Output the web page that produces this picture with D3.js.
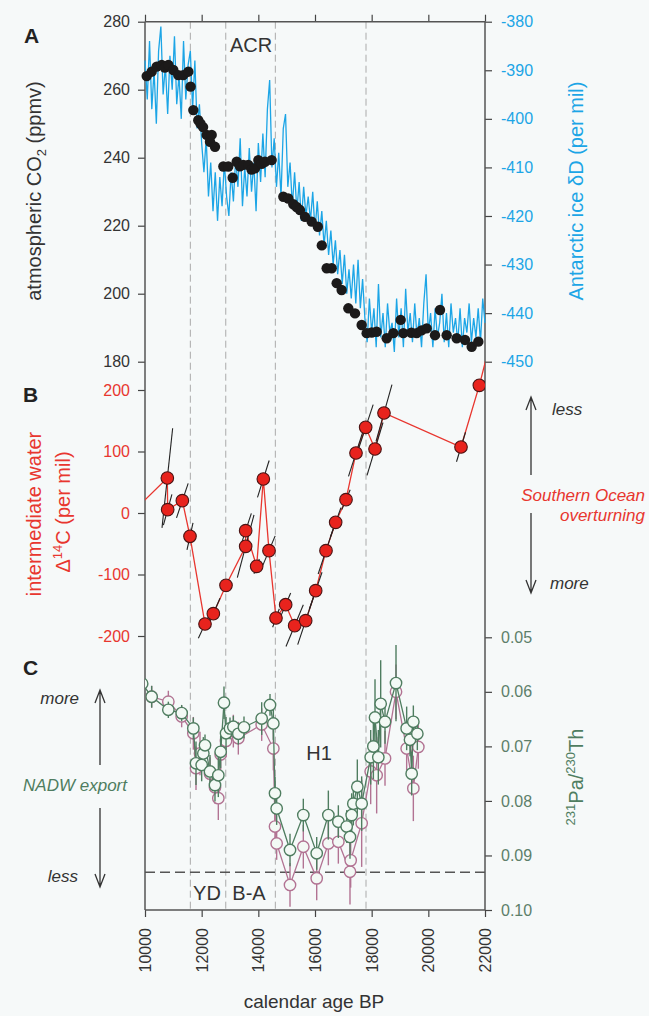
<!DOCTYPE html>
<html>
<head>
<meta charset="utf-8">
<script src="https://cdn.jsdelivr.net/npm/d3@7"></script>
<style>
  body { margin: 0; background: #f6f9f9; }
  svg { display: block; font-family: "Liberation Sans", Arial, sans-serif; }
</style>
</head>
<body>
<svg id="chart" width="649" height="1016"></svg>
<script>
// ---- data ----
const ageTicks = [10000, 12000, 14000, 16000, 18000, 20000, 22000];
const boundaries = [11600, 12850, 14600, 17800];   // dashed event lines

// A: atmospheric CO2 (ppmv)
const co2Ticks = [180, 200, 220, 240, 260, 280];
const co2Data = [
  [10060,264.0],[10236,265.3],[10412,266.8],[10590,267.3],[10700,266.5],[10825,267.3],[11000,265.8],
  [11175,264.3],[11350,264.3],[11530,265.3],[11610,260.9],[11705,254.0],[11880,251.0],[11960,250.0],
  [12050,249.0],[12176,246.7],[12294,244.7],[12353,246.7],[12470,243.2],[12765,237.4],[12940,237.4],
  [13094,234.1],[13236,238.8],[13350,237.5],[13470,237.9],[13646,237.9],[13760,236.5],[13882,236.9],
  [14000,239.3],[14120,238.2],[14235,238.8],[14471,239.3],[14882,228.5],[15058,228.0],[15235,226.3],
  [15350,225.5],[15470,224.6],[15647,222.6],[15882,221.2],[16100,219.7],[16240,214.2],[16412,207.5],
  [16588,207.5],[16765,203.1],[16940,201.1],[17176,195.7],[17412,194.2],[17647,190.8],[17823,188.4],
  [18000,188.6],[18176,188.8],[18530,186.9],[18765,188.4],[19023,192.3],[19117,188.4],[19400,188.5],
  [19588,188.4],[19760,189.2],[19941,189.8],[20235,187.8],[20412,195.2],[20647,187.8],[21000,186.9],
  [21294,186.4],[21530,184.4],[21765,185.9]
];

// A: Antarctic ice dD (per mil)
const dDTicks = [-380, -390, -400, -410, -420, -430, -440, -450];
const dDAge = [
  10000,10080,10160,10240,10320,10400,10480,10560,10640,10720,
  10800,10880,10960,11040,11120,11200,11280,11360,11440,11520,
  11600,11680,11760,11840,11920,12000,12080,12160,12240,12320,
  12400,12480,12560,12640,12720,12800,12880,12960,13040,13120,
  13200,13280,13360,13440,13520,13600,13680,13760,13840,13920,
  14000,14080,14160,14240,14320,14400,14480,14560,14640,14720,
  14800,14880,14960,15040,15120,15200,15280,15360,15440,15520,
  15600,15680,15760,15840,15920,16000,16080,16160,16240,16320,
  16400,16480,16560,16640,16720,16800,16880,16960,17040,17120,
  17200,17280,17360,17440,17520,17600,17680,17760,17840,17920,
  18000,18080,18160,18240,18320,18400,18480,18560,18640,18720,
  18800,18880,18960,19040,19120,19200,19280,19360,19440,19520,
  19600,19680,19760,19840,19920,20000,20080,20160,20240,20320,
  20400,20480,20560,20640,20720,20800,20880,20960,21040,21120,
  21200,21280,21360,21440,21520,21600,21680,21760,21840,21920,
  22000
];
const dDValue = [
  -388,-396,-384,-398,-390,-401,-386,-381,-395,-389,
  -399,-387,-394,-383,-397,-391,-400,-384,-396,-389,
  -386,-398,-388,-402,-397,-405,-411,-404,-416,-409,
  -419,-411,-421,-412,-418,-409,-416,-420,-411,-417,
  -408,-414,-404,-418,-410,-416,-406,-415,-409,-419,
  -405,-413,-403,-412,-398,-392,-410,-404,-414,-407,
  -416,-402,-399,-414,-409,-418,-411,-419,-413,-421,
  -414,-420,-416,-421,-415,-423,-417,-424,-419,-426,
  -421,-428,-423,-430,-425,-432,-427,-434,-428,-436,
  -431,-437,-430,-438,-429,-439,-433,-441,-446,-437,
  -444,-439,-447,-434,-445,-440,-447,-438,-444,-442,
  -448,-437,-445,-439,-447,-435,-444,-440,-446,-438,
  -445,-441,-447,-438,-432,-444,-440,-447,-439,-445,
  -442,-436,-446,-440,-447,-438,-444,-441,-446,-439,
  -447,-441,-444,-438,-446,-441,-445,-439,-446,-437,
  -442
];

// B: intermediate water D14C (per mil): [age, value, age half-err, value half-err]
const c14Ticks = [200, 100, 0, -100, -200];
const c14Line = [[9700, 8], [22200, 280]];  // line runs off both edges
const c14Data = [
  [10788, 56.9, 188, 81],[10800, 5.4, 150, 25],[11318, 20.1, 206, 28],[11588, -37.9, 106, 22],
  [12118, -180.5, 235, 23],[12412, -163.7, 235, 25],[12859, -117.6, 0, 0],[13553, -54.2, 294, 51],
  [13553, -28.7, 200, 28],[13941, -86.7, 94, 12],[14176, 55.3, 206, 30],[14376, -61.2, 218, 24],
  [14623, -170.7, 118, 15],[14965, -149.1, 176, 19],[15282, -183.2, 306, 34],[15671, -175.1, 282, 39],
  [16024, -126.3, 224, 30],[16388, -61.2, 276, 38],[16729, -15.2, 188, 24],[17094, 21.7, 147, 16],
  [17447, 97.6, 265, 38],[17788, 139.3, 265, 37],[18118, 104.1, 282, 43],[18435, 162.6, 282, 46],
  [21153, 107.3, 159, 24],[21800, 207.6, 0, 0]
];

// C: 231Pa/230Th : [age, ratio, half-err]
const paTicks = [0.05, 0.06, 0.07, 0.08, 0.09, 0.10];
const paThreshold = 0.0931;
const paGreen = [
  [9900,0.0585,0.002],[10235,0.0609,0.002],[10824,0.0633,0.0015],[11294,0.0639,0.0015],
  [11706,0.0667,0.002],[11800,0.0731,0.004],[12000,0.0734,0.003],[12059,0.0713,0.003],
  [12118,0.0698,0.002],[12294,0.0746,0.003],[12470,0.0771,0.003],[12588,0.0753,0.004],
  [12670,0.0710,0.003],[12788,0.0620,0.003],[12860,0.0676,0.003],[13000,0.0667,0.002],
  [13118,0.0664,0.002],[13294,0.0677,0.002],[13494,0.0665,0.002],[14118,0.0649,0.003],
  [14412,0.0624,0.002],[14530,0.0658,0.003],[14588,0.0786,0.003],[14647,0.0814,0.003],
  [15118,0.0890,0.003],[15588,0.0826,0.003],[16060,0.0896,0.003],[16471,0.0826,0.0045],
  [16824,0.0838,0.003],[17118,0.0847,0.003],[17235,0.0866,0.004],[17294,0.0826,0.004],
  [17353,0.0805,0.004],[17494,0.0774,0.005],[17647,0.0805,0.005],[17965,0.0720,0.005],
  [18060,0.0700,0.006],[18118,0.0647,0.007],[18235,0.0720,0.005],[18318,0.0622,0.008],
  [18471,0.0655,0.004],[18859,0.0584,0.007],[19235,0.0667,0.004],[19353,0.0688,0.003],
  [19412,0.0750,0.004],[19471,0.0655,0.003],[19612,0.0677,0.003]
];
const paPink = [
  [10235,0.0609,0.002],[10824,0.0618,0.002],[11294,0.0645,0.002],[11706,0.0676,0.003],
  [11800,0.0740,0.004],[11941,0.0713,0.004],[12294,0.0750,0.003],[12470,0.0775,0.003],
  [12588,0.0795,0.004],[12670,0.0715,0.003],[12860,0.0690,0.003],[13118,0.0672,0.003],
  [13294,0.0685,0.003],[14118,0.0660,0.003],[14530,0.0704,0.004],[14588,0.0847,0.003],
  [14647,0.0878,0.003],[15118,0.0954,0.004],[15588,0.0884,0.004],[16060,0.0942,0.004],
  [16471,0.0878,0.004],[16824,0.0875,0.004],[17235,0.0930,0.006],[17259,0.0909,0.005],
  [17647,0.0841,0.008],[17965,0.0746,0.006],[18176,0.0753,0.007],[18471,0.0722,0.005],
  [18859,0.0600,0.005],[19235,0.0704,0.004],[19471,0.0777,0.006],[19647,0.0701,0.004]
];

// ---- layout ----
const X0 = 145, X1 = 485, TOP = 21.7, BOT = 910;
const CYAN = "#1ca5e6", RED = "#e8362f", GREEN = "#4f7d60", PINK = "#b27393", INK = "#333";

const svg = d3.select("#chart");

const x = d3.scaleLinear().domain([10000, 22000]).range([X0, X1]);
const yCO2 = d3.scaleLinear().domain([180, 280]).range([361.7, TOP]);
const yDD = d3.scaleLinear().domain([-450, -380]).range([361.7, TOP]);
const yC14 = d3.scaleLinear().domain([-200, 200]).range([636, 390]);
const yPa = d3.scaleLinear().domain([0.05, 0.10]).range([637.3, BOT]);

svg.append("defs").append("clipPath").attr("id", "plotclip")
  .append("rect").attr("x", X0).attr("y", 0).attr("width", X1 - X0).attr("height", 1016);

// dashed event lines
svg.append("g").selectAll("line").data(boundaries).enter().append("line")
  .attr("x1", d => x(d)).attr("x2", d => x(d))
  .attr("y1", TOP).attr("y2", BOT)
  .attr("stroke", "#aaa").attr("stroke-width", 1).attr("stroke-dasharray", "7,4");

// threshold line in C
svg.append("line")
  .attr("x1", X0).attr("x2", X1)
  .attr("y1", yPa(paThreshold)).attr("y2", yPa(paThreshold))
  .attr("stroke", "#555").attr("stroke-width", 1.5).attr("stroke-dasharray", "10,5");

// ---- axes ----
function styleAxis(g, color) {
  g.attr("font-family", null).attr("font-size", 16);
  g.select(".domain").remove();
  g.selectAll(".tick line").attr("stroke", "#444").attr("stroke-width", 1.2);
  g.selectAll(".tick text").attr("fill", color);
}
const plain = d => String(d);

svg.append("g").attr("transform", `translate(${X0},0)`)
  .call(d3.axisLeft(yCO2).tickValues(co2Ticks).tickFormat(plain).tickSize(7).tickPadding(8))
  .call(g => styleAxis(g, INK));
svg.append("g").attr("transform", `translate(${X1},0)`)
  .call(d3.axisRight(yDD).tickValues(dDTicks).tickFormat(plain).tickSize(7).tickPadding(9))
  .call(g => styleAxis(g, CYAN));
svg.append("g").attr("transform", `translate(${X0},0)`)
  .call(d3.axisLeft(yC14).tickValues(c14Ticks).tickFormat(plain).tickSize(7).tickPadding(8))
  .call(g => styleAxis(g, RED));
svg.append("g").attr("transform", `translate(${X1},0)`)
  .call(d3.axisRight(yPa).tickValues(paTicks).tickFormat(d3.format(".2f")).tickSize(7).tickPadding(9))
  .call(g => styleAxis(g, "#5d7f6a"));
svg.append("g").attr("transform", `translate(0,${TOP})`)
  .call(d3.axisTop(x).tickValues(ageTicks).tickFormat("").tickSize(7))
  .call(g => styleAxis(g, INK));
svg.append("g").attr("transform", `translate(0,${BOT})`)
  .call(d3.axisBottom(x).tickValues(ageTicks).tickFormat(plain).tickSize(7))
  .call(g => styleAxis(g, INK))
  .call(g => g.selectAll(".tick text")
    .attr("transform", "rotate(-90)").attr("x", -18).attr("y", 0)
    .attr("dy", "0.35em").attr("text-anchor", "end"));

// frame
const frame = svg.append("g").attr("stroke", "#555").attr("stroke-width", 1.5);
frame.append("line").attr("x1", X0).attr("x2", X0).attr("y1", TOP).attr("y2", BOT);
frame.append("line").attr("x1", X1).attr("x2", X1).attr("y1", TOP).attr("y2", BOT);
frame.append("line").attr("x1", X0).attr("x2", X1).attr("y1", TOP).attr("y2", TOP);
frame.append("line").attr("x1", X0).attr("x2", X1).attr("y1", BOT).attr("y2", BOT);

// ---- panel A ----
const dDPoints = dDAge.map((a, i) => [a, dDValue[i]]);
svg.append("path").datum(dDPoints)
  .attr("fill", "none").attr("stroke", CYAN).attr("stroke-width", 1.3)
  .attr("d", d3.line().x(d => x(d[0])).y(d => yDD(d[1])));

svg.append("g").selectAll("circle").data(co2Data).enter().append("circle")
  .attr("cx", d => x(d[0])).attr("cy", d => yCO2(d[1])).attr("r", 5.2)
  .attr("fill", "#1c1a1a");

// ---- panel B ----
const gB = svg.append("g").attr("clip-path", "url(#plotclip)");
const c14Path = [c14Line[0], ...c14Data.map(d => [d[0], d[1]]), c14Line[1]];
gB.append("path").datum(c14Path)
  .attr("fill", "none").attr("stroke", RED).attr("stroke-width", 1.3)
  .attr("d", d3.line().x(d => x(d[0])).y(d => yC14(d[1])));
gB.selectAll("line.err").data(c14Data.filter(d => d[2] > 0)).enter().append("line")
  .attr("x1", d => x(d[0] - d[2])).attr("y1", d => yC14(d[1] - d[3]))
  .attr("x2", d => x(d[0] + d[2])).attr("y2", d => yC14(d[1] + d[3]))
  .attr("stroke", "#222").attr("stroke-width", 1.1);
gB.selectAll("circle").data(c14Data).enter().append("circle")
  .attr("cx", d => x(d[0])).attr("cy", d => yC14(d[1])).attr("r", 6.3)
  .attr("fill", "#e8231d").attr("stroke", "#4a1414").attr("stroke-width", 1.1);

// ---- panel C ----
const gC = svg.append("g").attr("clip-path", "url(#plotclip)");
function paSeries(data, color) {
  const g = gC.append("g");
  g.selectAll("line").data(data).enter().append("line")
    .attr("x1", d => x(d[0])).attr("x2", d => x(d[0]))
    .attr("y1", d => yPa(d[1] - d[2])).attr("y2", d => yPa(d[1] + d[2]))
    .attr("stroke", color).attr("stroke-width", 1.4);
  g.append("path").datum(data)
    .attr("fill", "none").attr("stroke", color).attr("stroke-width", 1.3)
    .attr("d", d3.line().x(d => x(d[0])).y(d => yPa(d[1])));
  g.selectAll("circle").data(data).enter().append("circle")
    .attr("cx", d => x(d[0])).attr("cy", d => yPa(d[1])).attr("r", 5.7)
    .attr("fill", "#f3f9f5").attr("stroke", color).attr("stroke-width", 1.4);
}
paSeries(paPink, PINK);
paSeries(paGreen, GREEN);

// ---- text ----
function label(txt, px, py, opts = {}) {
  const t = svg.append("text").attr("x", px).attr("y", py)
    .attr("font-size", opts.size || 16)
    .attr("fill", opts.color || INK)
    .attr("text-anchor", opts.anchor || "start");
  if (opts.bold) t.attr("font-weight", "bold");
  if (opts.italic) t.attr("font-style", "italic");
  if (opts.rotate) t.attr("transform", `rotate(-90,${px},${py})`);
  t.text(txt);
  return t;
}

label("A", 24, 43, { size: 21, bold: true, color: "#222" });
label("B", 23, 402, { size: 21, bold: true, color: "#222" });
label("C", 23, 675, { size: 21, bold: true, color: "#222" });

label("ACR", 251, 52, { size: 20, anchor: "middle" });
label("H1", 319, 760, { size: 20, anchor: "middle" });
label("YD", 207, 900, { size: 20, anchor: "middle" });
label("B-A", 249, 900, { size: 20, anchor: "middle" });
label("calendar age BP", 314, 1008, { size: 19, anchor: "middle" });

// y titles
const co2Title = label("", 41, 191, { size: 20, color: INK, anchor: "middle", rotate: true });
co2Title.append("tspan").text("atmospheric CO");
co2Title.append("tspan").attr("font-size", 13).attr("dy", 5).text("2");
co2Title.append("tspan").attr("dy", -5).text(" (ppmv)");

label("Antarctic ice \u03B4D (per mil)", 583, 191, { size: 20, color: CYAN, anchor: "middle", rotate: true });

label("intermediate water", 41, 514, { size: 20, color: RED, anchor: "middle", rotate: true });
const c14Title = label("", 70, 512, { size: 20, color: RED, anchor: "middle", rotate: true });
c14Title.append("tspan").text("\u0394");
c14Title.append("tspan").attr("font-size", 13).attr("dy", -8).text("14");
c14Title.append("tspan").attr("dy", 8).text("C (per mil)");

const paTitle = label("", 583, 777, { size: 20, color: GREEN, anchor: "middle", rotate: true });
paTitle.append("tspan").attr("font-size", 13).attr("dy", -8).text("231");
paTitle.append("tspan").attr("dy", 8).text("Pa/");
paTitle.append("tspan").attr("font-size", 13).attr("dy", -8).text("230");
paTitle.append("tspan").attr("dy", 8).text("Th");

// annotation arrows
function arrow(ax, yFrom, yTo) {
  const dir = yTo < yFrom ? 1 : -1;
  const p = d3.path();
  p.moveTo(ax, yFrom); p.lineTo(ax, yTo);
  p.moveTo(ax - 5, yTo + dir * 13); p.lineTo(ax, yTo); p.lineTo(ax + 5, yTo + dir * 13);
  svg.append("path").attr("d", p.toString())
    .attr("fill", "none").attr("stroke", "#333").attr("stroke-width", 1.3);
}
arrow(531, 475, 397);
arrow(531, 513, 593);
label("less", 552, 415, { size: 17, italic: true });
label("Southern Ocean", 645, 501, { size: 17, italic: true, color: RED, anchor: "end" });
label("overturning", 645, 521, { size: 17, italic: true, color: RED, anchor: "end" });
label("more", 550, 589, { size: 17, italic: true });

arrow(100, 765, 690);
arrow(100, 808, 887);
label("more", 79, 704, { size: 17, italic: true, anchor: "end" });
label("NADW export", 127, 791, { size: 17, italic: true, color: GREEN, anchor: "end" });
label("less", 78, 882, { size: 17, italic: true, anchor: "end" });
</script>
</body>
</html>
